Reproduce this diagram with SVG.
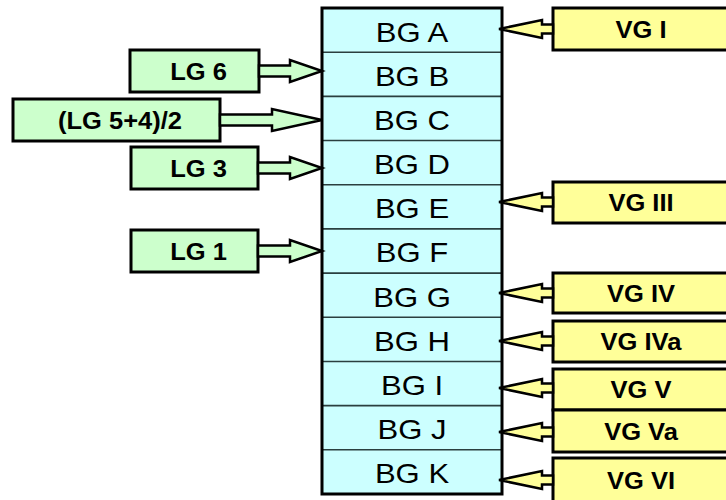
<svg xmlns="http://www.w3.org/2000/svg" width="726" height="500" viewBox="0 0 726 500">
<style>
.row{fill:#CCFFFF;}
.div{stroke:#2a3f3f;stroke-width:1.6;}
.bg{font-family:"Liberation Sans",Arial,sans-serif;font-size:28.5px;fill:#000;text-anchor:middle;}
.lbl{font-family:"Liberation Sans",Arial,sans-serif;font-size:23px;font-weight:bold;fill:#000;text-anchor:middle;}
.lg{fill:#CCFFCC;stroke:#000;stroke-width:3;}
.vg{fill:#FFFF99;stroke:#000;stroke-width:3;}
.la{fill:#CCFFCC;stroke:#000;stroke-width:2.5;stroke-linejoin:miter;}
.ra{fill:#FFFF99;stroke:#000;stroke-width:2.5;stroke-linejoin:miter;}
</style>
<rect width="726" height="500" fill="#fff"/>
<g id="bg-column">
<g id="bg-a"><rect class="row" x="322" y="8" width="180" height="44.18"/><text class="bg" transform="translate(412,41.5) scale(1.09,1)">BG A</text></g>
<g id="bg-b"><rect class="row" x="322" y="52.18" width="180" height="44.18"/><text class="bg" transform="translate(412,85.7) scale(1.09,1)">BG B</text></g>
<g id="bg-c"><rect class="row" x="322" y="96.36" width="180" height="44.18"/><text class="bg" transform="translate(412,129.9) scale(1.09,1)">BG C</text></g>
<g id="bg-d"><rect class="row" x="322" y="140.54" width="180" height="44.18"/><text class="bg" transform="translate(412,174) scale(1.09,1)">BG D</text></g>
<g id="bg-e"><rect class="row" x="322" y="184.73" width="180" height="44.18"/><text class="bg" transform="translate(412,218.2) scale(1.09,1)">BG E</text></g>
<g id="bg-f"><rect class="row" x="322" y="228.91" width="180" height="44.18"/><text class="bg" transform="translate(412,262.4) scale(1.09,1)">BG F</text></g>
<g id="bg-g"><rect class="row" x="322" y="273.09" width="180" height="44.18"/><text class="bg" transform="translate(412,306.6) scale(1.09,1)">BG G</text></g>
<g id="bg-h"><rect class="row" x="322" y="317.27" width="180" height="44.18"/><text class="bg" transform="translate(412,350.8) scale(1.09,1)">BG H</text></g>
<g id="bg-i"><rect class="row" x="322" y="361.45" width="180" height="44.18"/><text class="bg" transform="translate(412,394.9) scale(1.09,1)">BG I</text></g>
<g id="bg-j"><rect class="row" x="322" y="405.64" width="180" height="44.18"/><text class="bg" transform="translate(412,439.1) scale(1.09,1)">BG J</text></g>
<g id="bg-k"><rect class="row" x="322" y="449.82" width="180" height="44.18"/><text class="bg" transform="translate(412,483.3) scale(1.09,1)">BG K</text></g>
<g class="div">
<line x1="322" y1="52.18" x2="502" y2="52.18"/>
<line x1="322" y1="96.36" x2="502" y2="96.36"/>
<line x1="322" y1="140.54" x2="502" y2="140.54"/>
<line x1="322" y1="184.73" x2="502" y2="184.73"/>
<line x1="322" y1="228.91" x2="502" y2="228.91"/>
<line x1="322" y1="273.09" x2="502" y2="273.09"/>
<line x1="322" y1="317.27" x2="502" y2="317.27"/>
<line x1="322" y1="361.45" x2="502" y2="361.45"/>
<line x1="322" y1="405.64" x2="502" y2="405.64"/>
<line x1="322" y1="449.82" x2="502" y2="449.82"/>
</g>
<rect x="322" y="8" width="180" height="486" fill="none" stroke="#000" stroke-width="3"/>
</g>
<g id="lg-6"><rect class="lg" x="130" y="50" width="129" height="42"/><text class="lbl" transform="translate(198.5,79.5) scale(1.11,1)">LG 6</text></g>
<g id="lg-54"><rect class="lg" x="13" y="99" width="207" height="42"/><text class="lbl" transform="translate(120,128.5) scale(1.11,1)">(LG 5+4)/2</text></g>
<g id="lg-3"><rect class="lg" x="131" y="147" width="127" height="42"/><text class="lbl" transform="translate(198.5,176.5) scale(1.11,1)">LG 3</text></g>
<g id="lg-1"><rect class="lg" x="131" y="230" width="127" height="42"/><text class="lbl" transform="translate(198.5,259.5) scale(1.11,1)">LG 1</text></g>
<g id="vg-i"><rect class="vg" x="553" y="8" width="190" height="42"/><text class="lbl" transform="translate(641,37.5) scale(1.11,1)">VG I</text></g>
<g id="vg-iii"><rect class="vg" x="553" y="182" width="190" height="41"/><text class="lbl" transform="translate(641,211) scale(1.11,1)">VG III</text></g>
<g id="vg-iv"><rect class="vg" x="553" y="273" width="190" height="40"/><text class="lbl" transform="translate(641,301.5) scale(1.11,1)">VG IV</text></g>
<g id="vg-iva"><rect class="vg" x="553" y="321" width="190" height="41"/><text class="lbl" transform="translate(641,350) scale(1.11,1)">VG IVa</text></g>
<g id="vg-v"><rect class="vg" x="553" y="369" width="190" height="41"/><text class="lbl" transform="translate(641,397.5) scale(1.11,1)">VG V</text></g>
<g id="vg-va"><rect class="vg" x="553" y="410" width="190" height="42"/><text class="lbl" transform="translate(641,440) scale(1.11,1)">VG Va</text></g>
<g id="vg-vi"><rect class="vg" x="553" y="458" width="190" height="44"/><text class="lbl" transform="translate(641,488.5) scale(1.11,1)">VG VI</text></g>
<g id="connectors">
<polygon class="la" points="259,65.5 290,65.5 290,60 322,71 290,82 290,76.5 259,76.5"/>
<polygon class="la" points="220,114.5 272,114.5 272,109 322,120 272,131 272,125.5 220,125.5"/>
<polygon class="la" points="258,162.5 290,162.5 290,157 322,168 290,179 290,173.5 258,173.5"/>
<polygon class="la" points="258,245.5 290,245.5 290,240 322,251 290,262 290,256.5 258,256.5"/>
<polygon class="ra" points="553,24.5 542,24.5 542,20 499,29 542,38 542,33.5 553,33.5"/>
<polygon class="ra" points="553,197.5 542,197.5 542,193 499,202 542,211 542,206.5 553,206.5"/>
<polygon class="ra" points="553,288.5 542,288.5 542,284 499,293 542,302 542,297.5 553,297.5"/>
<polygon class="ra" points="553,336.5 542,336.5 542,332 499,341 542,350 542,345.5 553,345.5"/>
<polygon class="ra" points="553,383.5 542,383.5 542,379 499,388 542,397 542,392.5 553,392.5"/>
<polygon class="ra" points="553,427.5 542,427.5 542,423 499,432 542,441 542,436.5 553,436.5"/>
<polygon class="ra" points="553,475.5 542,475.5 542,471 499,480 542,489 542,484.5 553,484.5"/>
</g>
</svg>
